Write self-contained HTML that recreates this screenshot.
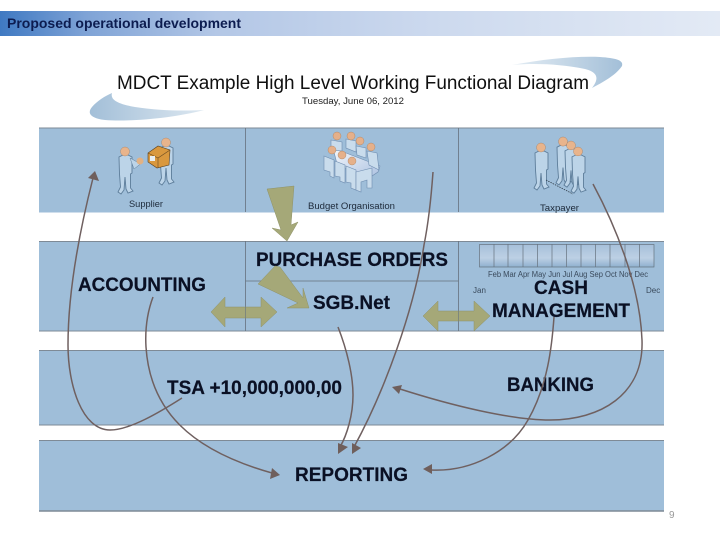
<!DOCTYPE html>
<html><head><meta charset="utf-8"><style>
html,body{margin:0;padding:0;background:#fff;width:720px;height:540px;overflow:hidden}
svg{display:block}
text{font-family:"Liberation Sans",sans-serif}
.b{font-weight:bold;fill:#0a1024;font-size:19px;stroke:#0a1024;stroke-width:.2}
.s{font-size:9px;fill:#1d2a3a}
.m{font-size:8px;fill:#3a4a5c}
.c{fill:none;stroke:#6f6060;stroke-width:1.5}
.h{fill:#6f5f5c}
.o{fill:#a5a878;stroke:#8e9268;stroke-width:.5}
</style></head><body>
<svg width="720" height="540" viewBox="0 0 720 540" xmlns="http://www.w3.org/2000/svg">
<defs>
<linearGradient id="hd" x1="0" x2="1" y1="0" y2="0"><stop offset="0" stop-color="#3f79c2"/><stop offset=".12" stop-color="#7fa3d6"/><stop offset=".3" stop-color="#b3c7e6"/><stop offset=".6" stop-color="#ccd9ee"/><stop offset="1" stop-color="#e3eaf5"/></linearGradient>
<linearGradient id="sw" x1="0" x2="1"><stop offset="0" stop-color="#a3bfd8"/><stop offset="1" stop-color="#dce7f0"/></linearGradient>
<linearGradient id="sw2" x1="0" x2="1"><stop offset="0" stop-color="#e4edf4"/><stop offset="1" stop-color="#a3bfd8"/></linearGradient>
<linearGradient id="tb" x1="0" x2="0" y1="0" y2="1"><stop offset="0" stop-color="#a6c0da"/><stop offset=".6" stop-color="#bdd0e4"/><stop offset="1" stop-color="#8fb0cf"/></linearGradient>
<linearGradient id="tbl" x1="0" x2="1" y1="0" y2="1"><stop offset="0" stop-color="#f5f8fc"/><stop offset="1" stop-color="#a9bfe0"/></linearGradient>
<g id="p">
<path d="M-6 8 L-2 6 H3 L7 8 L7 24 L5.500 25 L5.500 39 L8 42 L3 44 L1 40 L0 28 L-1 41 L-4 45 L-7 43 L-4.500 38 L-5.500 25 Z" fill="#bcd4e8" stroke="#5d7d9a" stroke-width=".9"/>
<circle cx="0" cy="2.500" r="4.500" fill="#e8b48c" stroke="#a97d5c" stroke-width=".4"/>
</g>
<g id="h"><circle r="4" fill="#e5b08a" stroke="#a97d5c" stroke-width=".4"/></g>
</defs>
<rect width="720" height="540" fill="#fff"/>
<rect x="0" y="11" width="720" height="25" fill="url(#hd)"/>
<text x="7" y="28" font-size="13.500" font-weight="bold" fill="#0c1c50" textLength="234" lengthAdjust="spacingAndGlyphs">Proposed operational development</text>

<path d="M512 65 C545 59 575 56 600 57 C615 58 624 60 622 66 C615 76 603 82 592 88 C600 78 597 72 585 69 C560 64 535 63 512 65 Z" fill="url(#sw2)"/>
<path d="M112 93 C110 100 118 104 135 107 C160 111 185 111 204 110 C175 118 130 122 105 120 C90 118 87 113 92 107 C97 101 105 96 112 93 Z" fill="url(#sw)"/>
<text x="117" y="89" font-size="19" fill="#101010" textLength="472" lengthAdjust="spacingAndGlyphs">MDCT Example High Level Working Functional Diagram</text>
<text x="302" y="104" font-size="9" fill="#202020" textLength="102" lengthAdjust="spacingAndGlyphs">Tuesday, June 06, 2012</text>

<rect x="39" y="128" width="625" height="84.500" fill="#9fbed9"/>
<rect x="39" y="241" width="625" height="90.500" fill="#9fbed9"/>
<rect x="39" y="350" width="625" height="75.500" fill="#9fbed9"/>
<rect x="39" y="440" width="625" height="71.500" fill="#9fbed9"/>
<path d="M39 128H664M39 241.500H664M39 331H664M39 350.500H664M39 425H664M39 440.500H664" stroke="#7e8a96" stroke-width="1" fill="none"/>
<path d="M39 511H664" stroke="#7e8a96" stroke-width="1.500"/>
<path d="M245.500 128V212M458.500 128V212M245.500 241V331M458.500 241V331M245.500 281H458.500" stroke="#66727e" stroke-width=".8" fill="none"/>

<!-- Supplier -->
<use href="#p" transform="translate(125,149)"/>
<use href="#p" transform="translate(166,140)"/>
<path d="M130 158 L139 163 L142 159 L143 162 L134 169 Z" fill="#bcd4e8" stroke="#5d7d9a" stroke-width=".5"/>
<circle cx="140" cy="161" r="3.500" fill="#e2b284"/>
<path d="M148 153 L158 146 L170 150 L169 165 L157 168 L148 162 Z" fill="#d9983e" stroke="#5a4020" stroke-width=".6"/>
<path d="M148 153 L158 158 L170 150 M158 158 V168" fill="none" stroke="#6a4b22" stroke-width=".6"/>
<rect x="150" y="156" width="5" height="5" fill="#e8eef2"/>
<text x="129" y="207" class="s" textLength="34" lengthAdjust="spacingAndGlyphs">Supplier</text>

<!-- Budget -->
<path d="M333 148 L380 166 L378 172 L366 180 L337 164 Z" fill="url(#tbl)" stroke="#6f8db0" stroke-width=".6"/>
<g fill="#c9dcec" stroke="#6f8db0" stroke-width=".6">
<path d="M331 140 L342 142 L342 151 L331 150 Z"/><path d="M346 139 L356 141 L356 152 L346 148 Z"/>
<path d="M356 146 L366 148 L366 158 L357 155 Z"/><path d="M367 151 L377 153 L379 170 L369 165 Z"/>
<path d="M324 156 L334 160 L334 178 L330 176 L330 172 L324 170 Z"/><path d="M335 161 L345 165 L345 183 L340 181 L340 177 L335 176 Z"/>
<path d="M346 166 L356 170 L356 190 L351 188 L351 183 L346 182 Z"/>
<path d="M356 172 L372 168 L372 188 L367 188 L367 180 L361 182 L361 192 L356 190 Z"/>
</g>
<use href="#h" x="337" y="136"/><use href="#h" x="351" y="136"/><use href="#h" x="360" y="141"/><use href="#h" x="371" y="147"/>
<use href="#h" x="332" y="150"/><use href="#h" x="342" y="155"/><use href="#h" x="352" y="161"/>
<text x="308" y="209" class="s" textLength="87" lengthAdjust="spacingAndGlyphs">Budget Organisation</text>

<!-- Taxpayer -->
<use href="#p" transform="translate(541,145)"/>
<use href="#p" transform="translate(563,139) scale(1,1.02)"/>
<use href="#p" transform="translate(571,143) scale(1,.98)"/>
<use href="#p" transform="translate(578,149) scale(1,.98)"/>
<path d="M546 180 L573 194" stroke="#24303a" stroke-width=".7" stroke-dasharray="1.500 1" fill="none"/>
<text x="540" y="211" class="s" textLength="39" lengthAdjust="spacingAndGlyphs">Taxpayer</text>

<!-- timeline -->
<rect x="479.500" y="244.500" width="174.500" height="22.500" fill="url(#tb)" stroke="#66727e" stroke-width=".7"/>
<path d="M494 244V267M508 244V267M523 244V267M537.500 244V267M552 244V267M566.500 244V267M581 244V267M595.500 244V267M610 244V267M625 244V267M639.500 244V267" stroke="#66727e" stroke-width=".7"/>
<text x="488" y="277" class="m" textLength="160" lengthAdjust="spacingAndGlyphs">Feb Mar Apr May Jun Jul Aug Sep Oct Nov Dec</text>
<text x="473" y="293" class="m">Jan</text>
<text x="646" y="293" class="m">Dec</text>

<!-- labels -->
<text x="78" y="291" class="b" textLength="128" lengthAdjust="spacingAndGlyphs">ACCOUNTING</text>
<text x="256" y="266" class="b" textLength="192" lengthAdjust="spacingAndGlyphs">PURCHASE ORDERS</text>
<text x="313" y="309" class="b" textLength="77" lengthAdjust="spacingAndGlyphs">SGB.Net</text>
<text x="534" y="294" class="b" textLength="54" lengthAdjust="spacingAndGlyphs">CASH</text>
<text x="492" y="317" class="b" textLength="138" lengthAdjust="spacingAndGlyphs">MANAGEMENT</text>
<text x="167" y="394" class="b" textLength="175" lengthAdjust="spacingAndGlyphs">TSA +10,000,000,00</text>
<text x="507" y="391" class="b" textLength="87" lengthAdjust="spacingAndGlyphs">BANKING</text>
<text x="295" y="481" class="b" textLength="113" lengthAdjust="spacingAndGlyphs">REPORTING</text>

<!-- block arrows -->
<polygon class="o" points="267,189 294,186 291,225 298,222 287,241 272,228 281,230"/>
<polygon class="o" points="275,266 280,267 303,298 303,288 309,308 287,308 298,303 258,284"/>
<polygon class="o" points="211,312 225,297 225,307 261,307 261,297 277,312 261,327 261,318 225,318 225,327"/>
<polygon class="o" points="423,316 438,301 438,311 474,311 474,301 490,316 474,331 474,321 438,321 438,331"/>
<path d="M245.500 307V318M458.500 311V321" stroke="#66727e" stroke-width=".6"/>

<!-- curved connectors -->
<path class="c" d="M182 398 C160 412 130 430 110 430 C82 430 68 385 68 345 C68 300 76 245 93 178"/>
<polygon class="h" points="95,171 99,181 88,178"/>
<path class="c" d="M153 297 C147 313 145 330 146 347 C150 410 190 450 272 473"/>
<polygon class="h" points="280,475 270,479 272,468"/>
<path class="c" d="M338 327 C347 350 353 375 353 395 C353 415 347 435 340 447"/>
<polygon class="h" points="338,454 338,443 348,447"/>
<path class="c" d="M433 172 C431 200 428 225 424 245 C414 310 385 390 354 447"/>
<polygon class="h" points="352,454 352,443 361,448"/>
<path class="c" d="M554 317 C552 345 548 385 528 420 C510 452 470 472 431 470"/>
<polygon class="h" points="423,469 432,464 432,474"/>
<path class="c" d="M593 184 C615 225 640 285 642 340 C644 395 600 420 550 420 C510 420 450 405 400 389"/>
<polygon class="h" points="392,387 402,385 399,394"/>

<text x="669" y="518" font-size="10" fill="#9a9a9a" font-family="Liberation Sans">9</text>
</svg>
</body></html>
